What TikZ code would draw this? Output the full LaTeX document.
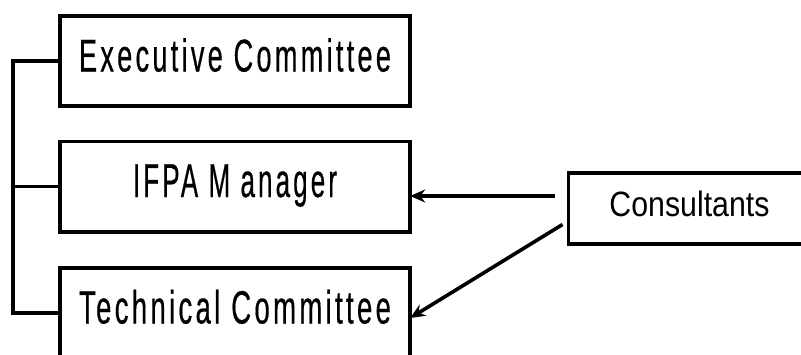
\documentclass[tikz,border=0pt]{standalone}
\usepackage{fontspec}
\setmainfont{Liberation Sans}
\newfontfamily\spacedfont[LetterSpace=12,FakeBold=0.6]{Liberation Sans}
\usetikzlibrary{arrows.meta}
\begin{document}
\begin{tikzpicture}[x=1pt,y=-1pt,
  line width=3.6pt,
  orgbox/.style={draw, rectangle, inner sep=0pt, outer sep=0pt,
    minimum width=350.4pt, minimum height=90.4pt,
    text height=30pt, text depth=9pt},
  consbox/.style={draw, rectangle, inner sep=0pt, outer sep=0pt,
    minimum width=242pt, minimum height=71.4pt,
    text height=25pt, text depth=9pt},
  arr/.style={-{Stealth[length=15pt,width=13pt,inset=5pt]}, line width=3.6pt},
  link/.style={line width=3.6pt, line join=miter}]
\useasboundingbox (0,0) rectangle (801,354);
\clip (0,0) rectangle (801,354);
\node[orgbox] (exec) at (235,61)
  {\resizebox{312pt}{33.3pt}{\fontsize{42}{48}\spacedfont Executive Committee}};
\node[orgbox] (ifpa) at (235,186.5)
  {\resizebox{204pt}{32.7pt}{\fontsize{42}{48}\spacedfont IFPA M anager}};
\node[orgbox] (tech) at (235,313)
  {\resizebox{312pt}{33.8pt}{\fontsize{42}{48}\spacedfont Technical Committee}};
\node[consbox] (cons) at (689.5,208.5)
  {\resizebox{160pt}{25.5pt}{\fontsize{35}{40}\selectfont Consultants}};
\coordinate (bus) at (13,61);
\draw[link] (exec.west) -- (exec.west -| bus) -- (tech.west -| bus) -- (tech.west);
\draw[link] (ifpa.west) -- (ifpa.west -| bus);
\coordinate (a1) at ([xshift=-14pt,yshift=12.5pt]cons.west);
\draw[arr] (a1) -- (ifpa.east |- a1);
\coordinate (a2) at ([xshift=-6pt,yshift=-16pt]cons.west);
\draw[arr] (a2) -- ([yshift=-5pt]tech.east);
\end{tikzpicture}
\end{document}
